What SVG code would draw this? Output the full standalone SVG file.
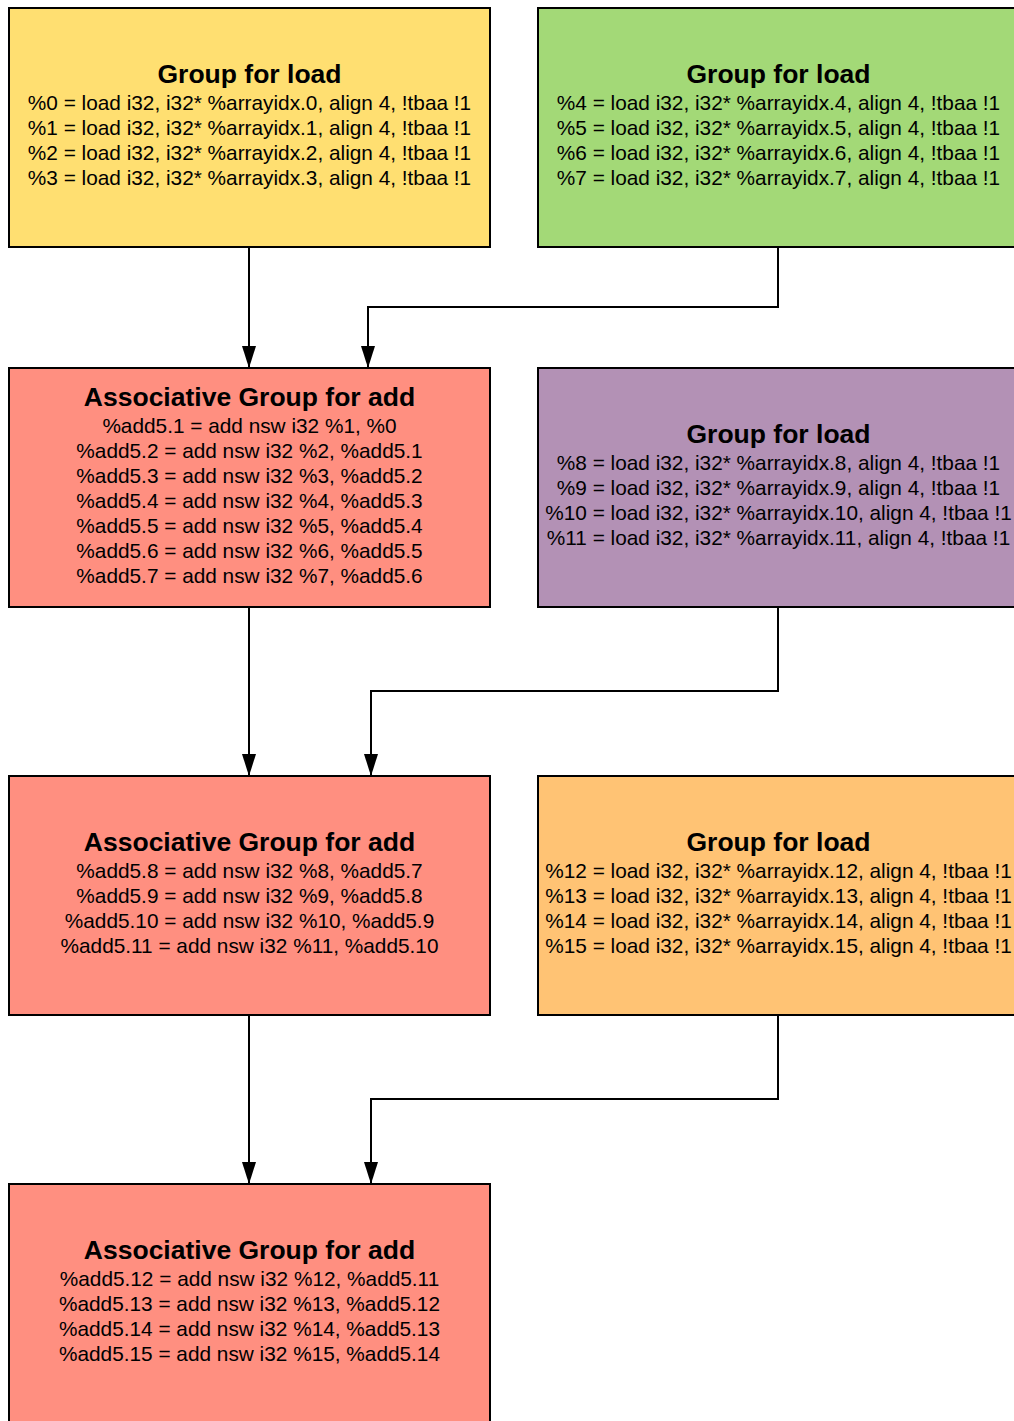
<svg xmlns="http://www.w3.org/2000/svg" width="1014" height="1421" viewBox="0 0 1014 1421">
  <style>
    .box { stroke: #000; stroke-width: 2; }
    .load-a { fill: #FFDF71; }
    .load-b { fill: #A3D977; }
    .load-c { fill: #B391B5; }
    .load-d { fill: #FFC374; }
    .add { fill: #FF8F80; }
    .title { font-family: "Liberation Sans", Arial, sans-serif; font-weight: bold; font-size: 26.5px; fill: #000; text-anchor: middle; }
    .line { font-family: "Liberation Sans", Arial, sans-serif; font-size: 20.8px; fill: #000; text-anchor: middle; }
    .edge { fill: none; stroke: #000; stroke-width: 2; marker-end: url(#arrow); }
  </style>
  <defs>
    <!-- filled triangular arrowhead, tip at the end of the path -->
    <marker id="arrow" markerUnits="userSpaceOnUse" markerWidth="22" markerHeight="14" viewBox="0 0 22 14" refX="21" refY="7" orient="auto">
      <path d="M0,0 L22,7 L0,14 Z" fill="#000"/>
    </marker>
  </defs>
  <rect width="1014" height="1421" fill="#fff"/>

  <!-- connectors -->
  <g id="connectors">
    <path class="edge" d="M249,248 V367"/>
    <path class="edge" d="M778,248 V307 H368 V367"/>
    <path class="edge" d="M249,608 V775"/>
    <path class="edge" d="M778,608 V691 H371 V775"/>
    <path class="edge" d="M249,1016 V1183"/>
    <path class="edge" d="M778,1016 V1099 H371 V1183"/>
  </g>

  <!-- load group %0-%3 -->
  <g id="load0">
    <rect class="box load-a" x="9" y="8" width="481" height="239"/>
    <text class="title" x="249.5" y="83">Group for load</text>
    <text class="line" x="249.5" y="110">%0 = load i32, i32* %arrayidx.0, align 4, !tbaa !1</text>
    <text class="line" x="249.5" y="135">%1 = load i32, i32* %arrayidx.1, align 4, !tbaa !1</text>
    <text class="line" x="249.5" y="160">%2 = load i32, i32* %arrayidx.2, align 4, !tbaa !1</text>
    <text class="line" x="249.5" y="185">%3 = load i32, i32* %arrayidx.3, align 4, !tbaa !1</text>
  </g>

  <!-- load group %4-%7 -->
  <g id="load4">
    <rect class="box load-b" x="538" y="8" width="481" height="239"/>
    <text class="title" x="778.5" y="83">Group for load</text>
    <text class="line" x="778.5" y="110">%4 = load i32, i32* %arrayidx.4, align 4, !tbaa !1</text>
    <text class="line" x="778.5" y="135">%5 = load i32, i32* %arrayidx.5, align 4, !tbaa !1</text>
    <text class="line" x="778.5" y="160">%6 = load i32, i32* %arrayidx.6, align 4, !tbaa !1</text>
    <text class="line" x="778.5" y="185">%7 = load i32, i32* %arrayidx.7, align 4, !tbaa !1</text>
  </g>

  <!-- add chain 1-7 -->
  <g id="add1">
    <rect class="box add" x="9" y="368" width="481" height="239"/>
    <text class="title" x="249.5" y="405.5">Associative Group for add</text>
    <text class="line" x="249.5" y="432.5">%add5.1 = add nsw i32 %1, %0</text>
    <text class="line" x="249.5" y="457.5">%add5.2 = add nsw i32 %2, %add5.1</text>
    <text class="line" x="249.5" y="482.5">%add5.3 = add nsw i32 %3, %add5.2</text>
    <text class="line" x="249.5" y="507.5">%add5.4 = add nsw i32 %4, %add5.3</text>
    <text class="line" x="249.5" y="532.5">%add5.5 = add nsw i32 %5, %add5.4</text>
    <text class="line" x="249.5" y="557.5">%add5.6 = add nsw i32 %6, %add5.5</text>
    <text class="line" x="249.5" y="582.5">%add5.7 = add nsw i32 %7, %add5.6</text>
  </g>

  <!-- load group %8-%11 -->
  <g id="load8">
    <rect class="box load-c" x="538" y="368" width="481" height="239"/>
    <text class="title" x="778.5" y="443">Group for load</text>
    <text class="line" x="778.5" y="470">%8 = load i32, i32* %arrayidx.8, align 4, !tbaa !1</text>
    <text class="line" x="778.5" y="495">%9 = load i32, i32* %arrayidx.9, align 4, !tbaa !1</text>
    <text class="line" x="778.5" y="520">%10 = load i32, i32* %arrayidx.10, align 4, !tbaa !1</text>
    <text class="line" x="778.5" y="545">%11 = load i32, i32* %arrayidx.11, align 4, !tbaa !1</text>
  </g>

  <!-- add chain 8-11 -->
  <g id="add8">
    <rect class="box add" x="9" y="776" width="481" height="239"/>
    <text class="title" x="249.5" y="851">Associative Group for add</text>
    <text class="line" x="249.5" y="878">%add5.8 = add nsw i32 %8, %add5.7</text>
    <text class="line" x="249.5" y="903">%add5.9 = add nsw i32 %9, %add5.8</text>
    <text class="line" x="249.5" y="928">%add5.10 = add nsw i32 %10, %add5.9</text>
    <text class="line" x="249.5" y="953">%add5.11 = add nsw i32 %11, %add5.10</text>
  </g>

  <!-- load group %12-%15 -->
  <g id="load12">
    <rect class="box load-d" x="538" y="776" width="481" height="239"/>
    <text class="title" x="778.5" y="851">Group for load</text>
    <text class="line" x="778.5" y="878">%12 = load i32, i32* %arrayidx.12, align 4, !tbaa !1</text>
    <text class="line" x="778.5" y="903">%13 = load i32, i32* %arrayidx.13, align 4, !tbaa !1</text>
    <text class="line" x="778.5" y="928">%14 = load i32, i32* %arrayidx.14, align 4, !tbaa !1</text>
    <text class="line" x="778.5" y="953">%15 = load i32, i32* %arrayidx.15, align 4, !tbaa !1</text>
  </g>

  <!-- add chain 12-15 -->
  <g id="add12">
    <rect class="box add" x="9" y="1184" width="481" height="239"/>
    <text class="title" x="249.5" y="1259">Associative Group for add</text>
    <text class="line" x="249.5" y="1286">%add5.12 = add nsw i32 %12, %add5.11</text>
    <text class="line" x="249.5" y="1311">%add5.13 = add nsw i32 %13, %add5.12</text>
    <text class="line" x="249.5" y="1336">%add5.14 = add nsw i32 %14, %add5.13</text>
    <text class="line" x="249.5" y="1361">%add5.15 = add nsw i32 %15, %add5.14</text>
  </g>
</svg>
